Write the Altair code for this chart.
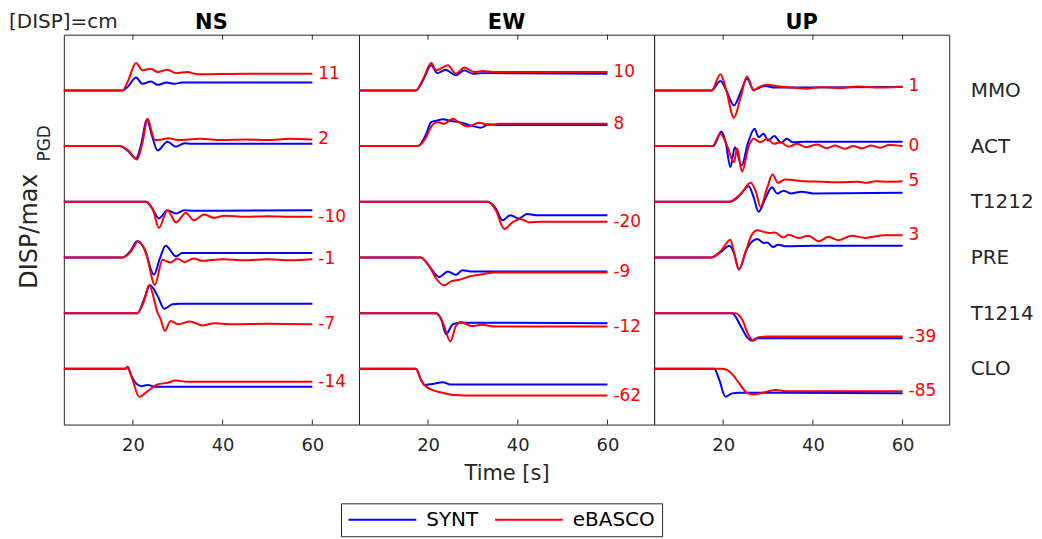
import altair as alt
import pandas as pd

STATIONS = ["MMO", "ACT", "T1212", "PRE", "T1214", "CLO"]
OFFSETS = [5, 4, 3, 2, 1, 0]
COMPONENTS = ["NS", "EW", "UP"]
SERIES = ["SYNT", "eBASCO"]
X_TICKS = [20, 40, 60]
NS_LABELS = ["11", "2", "-10", "-1", "-7", "-14"]
EW_LABELS = ["10", "8", "-20", "-9", "-12", "-62"]
UP_LABELS = ["1", "0", "5", "3", "-39", "-85"]

# traces: (time [s], DISP/max_PGD relative to the station baseline)
NS_MMO_SYNT = [(4.6, 0), (17.7, 0), (18.8, 0.06), (20.7, 0.23), (22.1, 0.12), (24.0, 0.16), (25.5, 0.10), (27.5, 0.14), (29.3, 0.12), (31.0, 0.14), (60, 0.14)]
NS_MMO_EBASCO = [(4.6, 0), (17.7, 0), (18.8, 0.15), (20.7, 0.49), (22.1, 0.36), (24.0, 0.39), (25.5, 0.33), (27.7, 0.37), (29.6, 0.31), (32.1, 0.33), (34.4, 0.29), (45, 0.30), (60, 0.30)]
NS_ACT_SYNT = [(4.6, 0), (17.0, 0), (18.8, -0.08), (20.7, -0.22), (21.9, 0.05), (23.1, 0.48), (24.2, 0.20), (25.5, -0.08), (27.7, 0.08), (29.6, -0.01), (31.5, 0.05), (33.0, 0.04), (60, 0.04)]
NS_ACT_EBASCO = [(4.6, 0), (17.0, 0), (19.0, -0.08), (20.9, -0.24), (22.1, 0.05), (23.3, 0.49), (24.2, 0.25), (24.9, 0.11), (26.5, 0.12), (28.0, 0.14), (30.0, 0.11), (35, 0.13), (40, 0.11), (45, 0.12), (50, 0.11), (55, 0.13), (60, 0.12)]
NS_T1212_SYNT = [(4.6, 0), (22.9, 0), (24.3, -0.12), (25.8, -0.30), (27.7, -0.15), (29.6, -0.21), (31.4, -0.15), (33.5, -0.16), (60, -0.15)]
NS_T1212_EBASCO = [(4.6, 0), (22.9, 0), (24.5, -0.15), (25.8, -0.47), (27.7, -0.15), (29.6, -0.37), (31.8, -0.20), (33.6, -0.33), (35.9, -0.23), (38.1, -0.29), (40.4, -0.25), (45, -0.27), (50, -0.26), (55, -0.27), (60, -0.27)]
NS_PRE_SYNT = [(4.6, 0), (17.7, 0), (19.5, 0.12), (20.9, 0.29), (22.5, 0.17), (24.7, -0.31), (26.0, -0.02), (27.3, 0.21), (29.6, 0.02), (31.0, 0.08), (60, 0.08)]
NS_PRE_EBASCO = [(4.6, 0), (17.7, 0), (19.5, 0.10), (21.2, 0.29), (22.9, 0.08), (24.9, -0.49), (26.6, -0.04), (28.4, -0.09), (29.9, -0.02), (31.5, -0.08), (33.5, -0.02), (35.5, -0.06), (40, -0.03), (45, -0.05), (50, -0.03), (55, -0.05), (60, -0.03)]
NS_T1214_SYNT = [(4.6, 0), (21.0, 0), (22.5, 0.25), (23.8, 0.50), (25.5, 0.31), (27.0, 0.08), (28.8, 0.16), (30.5, 0.17), (60, 0.17)]
NS_T1214_EBASCO = [(4.6, 0), (21.0, 0), (22.4, 0.20), (23.6, 0.50), (25.5, 0.01), (26.2, -0.11), (27.1, -0.32), (28.4, -0.14), (30.1, -0.20), (32.7, -0.15), (35.6, -0.22), (38.2, -0.18), (42, -0.20), (50, -0.19), (60, -0.20)]
NS_CLO_SYNT = [(4.6, 0), (18.4, 0), (18.8, 0.04), (19.5, -0.10), (20.7, -0.26), (21.9, -0.31), (23.3, -0.29), (25.0, -0.32), (60, -0.32)]
NS_CLO_EBASCO = [(4.6, 0), (18.4, 0), (18.8, 0.04), (19.9, -0.19), (21.4, -0.50), (23.3, -0.40), (25.5, -0.28), (27.7, -0.25), (29.6, -0.21), (32.0, -0.23), (60, -0.23)]

EW_MMO_SYNT = [(4.6, 0), (17.3, 0), (19.0, 0.20), (20.7, 0.45), (22.1, 0.31), (23.9, 0.37), (26.2, 0.27), (28.1, 0.36), (30.0, 0.30), (32.0, 0.31), (60, 0.30)]
EW_MMO_EBASCO = [(4.6, 0), (17.3, 0), (19.0, 0.22), (20.7, 0.49), (21.8, 0.36), (24.4, 0.45), (26.2, 0.30), (28.1, 0.41), (30.3, 0.33), (32.2, 0.35), (35, 0.33), (60, 0.33)]
EW_ACT_SYNT = [(4.6, 0), (17.7, 0), (19.5, 0.20), (20.7, 0.43), (22.1, 0.46), (23.3, 0.48), (25.1, 0.45), (27.0, 0.43), (29.1, 0.38), (31.7, 0.33), (33.5, 0.39), (36, 0.38), (60, 0.38)]
EW_ACT_EBASCO = [(4.6, 0), (17.7, 0), (19.5, 0.15), (20.7, 0.35), (22.1, 0.43), (23.6, 0.40), (25.5, 0.49), (27.0, 0.42), (28.8, 0.35), (31.4, 0.42), (33.5, 0.38), (36, 0.40), (60, 0.40)]
EW_T1212_SYNT = [(4.6, 0), (33.3, 0), (35.1, -0.12), (36.6, -0.33), (38.4, -0.24), (40.2, -0.30), (42.1, -0.22), (44, -0.24), (60, -0.24)]
EW_T1212_EBASCO = [(4.6, 0), (33.3, 0), (35.1, -0.15), (37.0, -0.49), (38.8, -0.37), (40.7, -0.31), (42.5, -0.37), (45, -0.36), (60, -0.36)]
EW_PRE_SYNT = [(4.6, 0), (18.4, 0), (20.3, -0.16), (22.5, -0.35), (24.4, -0.25), (26.2, -0.31), (27.7, -0.23), (29.5, -0.25), (60, -0.25)]
EW_PRE_EBASCO = [(4.6, 0), (18.4, 0), (20.3, -0.16), (22.0, -0.40), (23.6, -0.50), (25.1, -0.43), (27.0, -0.40), (29.2, -0.34), (31.4, -0.31), (35.1, -0.27), (60, -0.27)]
EW_T1214_SYNT = [(4.6, 0), (21.8, 0), (23.0, -0.12), (24.0, -0.38), (25.5, -0.20), (27.0, -0.17), (60, -0.18)]
EW_T1214_EBASCO = [(4.6, 0), (21.8, 0), (23.3, -0.17), (25.0, -0.51), (26.2, -0.23), (27.4, -0.16), (29.6, -0.23), (32, -0.21), (35, -0.24), (60, -0.24)]
EW_CLO_SYNT = [(4.6, 0), (17.3, 0), (18.4, -0.19), (19.2, -0.29), (21.0, -0.27), (23.3, -0.24), (25.0, -0.28), (60, -0.28)]
EW_CLO_EBASCO = [(4.6, 0), (17.3, 0), (18.4, -0.19), (19.2, -0.29), (20.7, -0.37), (23.3, -0.43), (25.9, -0.47), (30, -0.48), (60, -0.48)]

UP_MMO_SYNT = [(4.6, 0), (17.4, 0), (19.4, 0.17), (20.7, 0.0), (22.4, -0.27), (23.9, -0.03), (25.3, 0.21), (26.8, 0.01), (29.3, 0.08), (31.5, 0.05), (60, 0.06)]
UP_MMO_EBASCO = [(4.6, 0), (17.4, 0), (19.4, 0.29), (20.6, 0.03), (22.4, -0.49), (23.9, -0.12), (25.3, 0.25), (26.8, 0.0), (28.0, 0.06), (29.8, 0.10), (32.4, 0.07), (35.4, 0.05), (38.5, 0.03), (42, 0.06), (46, 0.04), (50, 0.07), (55, 0.05), (60, 0.07)]
UP_ACT_SYNT = [(11.5, 0), (17.8, 0), (19.6, 0.26), (20.6, 0.05), (21.6, -0.38), (22.6, -0.02), (24.1, -0.35), (25.5, 0.05), (27.0, 0.31), (27.9, 0.16), (29.0, 0.22), (30.0, 0.10), (31.4, 0.18), (32.9, 0.06), (34.2, 0.13), (35.5, 0.07), (38, 0.08), (60, 0.08)]
UP_ACT_EBASCO = [(4.6, 0), (17.6, 0), (19.4, 0.22), (20.8, 0.02), (22.4, -0.29), (23.1, -0.04), (24.2, -0.46), (25.7, 0.0), (26.8, 0.13), (28.3, 0.07), (29.8, 0.13), (31.3, 0.04), (32.8, 0.07), (34.6, -0.01), (36.5, 0.04), (38.5, -0.02), (41, 0.03), (43, -0.04), (45, 0.01), (47, -0.05), (49, 0.0), (51, -0.04), (53, 0.01), (55, -0.03), (57, 0.02), (60, 0.0)]
UP_T1212_SYNT = [(4.6, 0), (21.5, 0), (23.5, 0.10), (25.7, 0.28), (26.8, 0.08), (27.9, -0.18), (29.4, 0.06), (30.9, 0.26), (32.0, 0.15), (33.5, 0.20), (35.2, 0.15), (37.5, 0.18), (40, 0.15), (60, 0.16)]
UP_T1212_EBASCO = [(4.6, 0), (21.3, 0), (24.0, 0.15), (26.1, 0.34), (27.3, 0.18), (28.3, -0.09), (29.8, 0.25), (31.0, 0.49), (32.2, 0.34), (33.8, 0.40), (38, 0.37), (42, 0.36), (46, 0.35), (50, 0.36), (52, 0.34), (54, 0.37), (57, 0.36), (60, 0.37)]
UP_PRE_SYNT = [(4.6, 0), (17.4, 0), (19.5, 0.10), (21.4, 0.21), (22.4, 0.08), (23.5, -0.21), (25.2, 0.14), (27.6, 0.33), (29.1, 0.26), (29.8, 0.27), (31.1, 0.19), (32.3, 0.23), (34, 0.20), (40, 0.21), (60, 0.21)]
UP_PRE_EBASCO = [(4.6, 0), (17.4, 0), (19.5, 0.12), (21.6, 0.32), (22.4, 0.10), (23.5, -0.22), (25.0, 0.10), (26.4, 0.41), (27.6, 0.49), (29.0, 0.46), (30.3, 0.44), (31.5, 0.45), (33.4, 0.36), (34.6, 0.41), (36.8, 0.35), (39, 0.39), (41.3, 0.29), (43.5, 0.37), (45.7, 0.31), (48.7, 0.39), (51.6, 0.35), (56, 0.40), (60, 0.40)]
UP_T1214_SYNT = [(4.6, 0), (22.0, 0), (23.9, -0.23), (25.3, -0.43), (26.4, -0.49), (27.5, -0.45), (60, -0.45)]
UP_T1214_EBASCO = [(4.6, 0), (22.7, 0), (24.2, -0.11), (25.7, -0.40), (26.8, -0.49), (27.9, -0.43), (30, -0.42), (60, -0.42)]
UP_CLO_SYNT = [(4.6, 0), (18.0, 0), (19.1, -0.19), (20.5, -0.50), (22.0, -0.44), (23.5, -0.43), (60, -0.44)]
UP_CLO_EBASCO = [(4.6, 0), (19.8, 0), (21.7, -0.07), (23.5, -0.25), (25.3, -0.43), (26.8, -0.46), (28.7, -0.43), (31.6, -0.38), (34, -0.40), (60, -0.40)]

W, H = 296, 391
BLUE, RED = "#0000ff", "#ff0000"
INK = "#262626"
FONT = "DejaVu Sans"

rows = []
for comp in COMPONENTS:
    for st, off in zip(STATIONS, OFFSETS):
        for ser, tag in zip(SERIES, ["SYNT", "EBASCO"]):
            for i, (t, v) in enumerate(globals()[f"{comp}_{st}_{tag}"]):
                rows.append({"comp": comp, "station": st, "series": ser, "t": t, "y": off + v, "i": i})
df = pd.DataFrame(rows)

lab_rows = []
for comp, labels in zip(COMPONENTS, [NS_LABELS, EW_LABELS, UP_LABELS]):
    for st, off, lab in zip(STATIONS, OFFSETS, labels):
        t_end, v_end = globals()[f"{comp}_{st}_EBASCO"][-1]
        lab_rows.append({"comp": comp, "station": st, "t": t_end, "y": off + v_end, "label": lab})
labdf = pd.DataFrame(lab_rows)
tickdf = pd.DataFrame({"t": X_TICKS})

xscale = alt.Scale(domain=[4.6, 70.4], nice=False, zero=False)
yscale = alt.Scale(domain=[-1, 6], nice=False, zero=False)
cscale = alt.Scale(domain=SERIES, range=[BLUE, RED])
legend = alt.Legend(
    orient="none", legendX=278, legendY=470, direction="horizontal", title=None,
    symbolType="stroke", symbolSize=4624, symbolStrokeWidth=2, clipHeight=20,
    labelFont=FONT, labelFontSize=20, labelColor="black", labelOffset=9,
    columnPadding=15, padding=6.5, strokeColor=INK, fillColor="white",
)

station_expr = " : ".join(
    [f"datum.value == {o} ? '{s}'" for s, o in zip(STATIONS[:-1], OFFSETS[:-1])] + [f"'{STATIONS[-1]}'"]
)


def label_text(txt, **kw):
    return alt.Chart(pd.DataFrame({"txt": [txt]})).mark_text(font=FONT, **kw)


def panel(comp):
    xaxis = alt.Axis(
        values=X_TICKS, ticks=False, domain=False, grid=False,
        labelFont=FONT, labelFontSize=18, labelColor=INK, labelPadding=12,
        title="Time [s]" if comp == "EW" else None,
        titleFont=FONT, titleFontSize=21, titleFontWeight="normal", titleColor=INK, titlePadding=8,
    )
    if comp == "UP":
        yaxis = alt.Axis(
            orient="right", values=OFFSETS, labelExpr=station_expr, ticks=False, domain=False,
            grid=False, title=None, labelFont=FONT, labelFontSize=20, labelColor=INK, labelPadding=21,
        )
    else:
        yaxis = None
    x = alt.X("t:Q", scale=xscale, axis=xaxis)
    y = alt.Y("y:Q", scale=yscale, axis=yaxis)
    d = df[df.comp == comp]
    color = alt.Color("series:N", scale=cscale, legend=legend)

    blue = alt.Chart(d[d.series == "SYNT"]).mark_line(strokeWidth=2, interpolate="monotone").encode(
        x=x, y=y, color=color, detail="station:N", order="i:Q")
    red = alt.Chart(d[d.series == "eBASCO"]).mark_line(strokeWidth=2, interpolate="monotone").encode(
        x=x, y=y, color=color, detail="station:N", order="i:Q")
    nums = alt.Chart(labdf[labdf.comp == comp]).mark_text(
        align="left", baseline="middle", dx=6, color=RED, font=FONT, fontSize=17).encode(
        x=x, y=y, text="label:N")
    top_ticks = alt.Chart(tickdf).mark_rule(color=INK, strokeWidth=1).encode(
        x=x, y=alt.value(0), y2=alt.value(5))
    bot_ticks = alt.Chart(tickdf).mark_rule(color=INK, strokeWidth=1).encode(
        x=x, y=alt.value(H - 5), y2=alt.value(H))
    title = label_text(comp, align="center", baseline="alphabetic", fontSize=21, fontWeight="bold",
                       color="black").encode(x=alt.value(W / 2), y=alt.value(-6), text="txt:N")
    layers = [blue, red, nums, top_ticks, bot_ticks, title]

    if comp == "NS":
        t1 = label_text("DISP/max", angle=270, align="center", baseline="middle", fontSize=24,
                        color=INK).encode(x=alt.value(-34), y=alt.value(197), text="txt:N")
        t2 = label_text("PGD", angle=270, align="center", baseline="middle", fontSize=17,
                        color=INK).encode(x=alt.value(-19), y=alt.value(109), text="txt:N")
        t3 = label_text("[DISP]=cm", align="left", baseline="alphabetic", fontSize=20,
                        color=INK).encode(x=alt.value(-55), y=alt.value(-7), text="txt:N")
        layers += [t1, t2, t3]

    return alt.layer(*layers).properties(width=W, height=H)


chart = alt.hconcat(panel("NS"), panel("EW"), panel("UP"), spacing=0, bounds="flush").configure_view(
    stroke=INK, strokeWidth=1
).properties(padding={"left": 0, "top": 2, "right": 0, "bottom": 0})

chart.save("out.html", embed_options={"renderer": "svg", "actions": False})
